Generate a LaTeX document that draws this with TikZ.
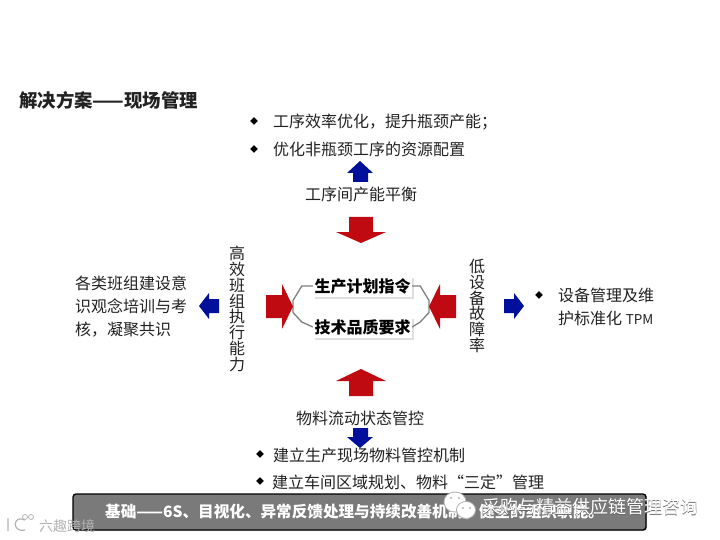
\documentclass[tikz,border=0pt]{standalone}
\usepackage{fontspec}
\setmainfont{Noto Sans CJK SC}
\usetikzlibrary{calc,shadows}
\definecolor{blockred}{HTML}{C00A12}
\definecolor{blockblue}{HTML}{00109A}
\definecolor{barfill}{HTML}{7A7A7A}
\definecolor{linkgray}{HTML}{808080}
\definecolor{inktext}{HTML}{222222}
\definecolor{markgray}{HTML}{B4B4B4}
\tikzset{
 txt/.style={text=inktext,font=\fontsize{16}{23}\selectfont,inner sep=0pt},
 bullet/.style={text=black,font=\fontsize{8}{8}\selectfont,inner sep=0pt},
 planbox/.style={fill=white,drop shadow={shadow xshift=2pt,shadow yshift=-2pt,opacity=.25},inner sep=0pt,minimum width=99pt,minimum height=21pt,font=\fontsize{16}{16}\selectfont\bfseries,text=black},
 vtxt/.style={txt,align=center,font=\fontsize{16}{15.8}\selectfont},
 link/.style={draw=linkgray,line width=1.3pt},
 marktxt/.style={inner sep=0pt,anchor=west,font=\fontsize{18}{18}\selectfont},
}
\begin{document}
\begin{tikzpicture}[x=1pt,y=-1pt]
 \useasboundingbox (0,0) rectangle (720,540);
 \fill[white] (0,0) rectangle (720,540);
 \node[txt,anchor=west,font=\fontsize{18.4}{18.4}\selectfont\bfseries] (title) at (19,100) {解决方案——现场管理};
 % top
 \node[bullet] (btopa) at (254,121) {◆};
 \node[txt,anchor=west] (topa) at (273,122) {工序效率优化，提升瓶颈产能；};
 \node[bullet] (btopb) at (254,149) {◆};
 \node[txt,anchor=west] (topb) at (273,149) {优化非瓶颈工序的资源配置};
 \node[txt] (balance) at (361,194) {工序间产能平衡};
 \fill[blockblue] (360,161)--(373,173)--(368,173)--(368,182)--(353,182)--(353,173)--(347,173)--cycle;
 \fill[blockred] (349,217)--(373,217)--(373,232)--(386,232)--(361,243)--(336,232)--(349,232)--cycle;
 % middle
 \node[planbox] (plan) at (362.5,286) {生产计划指令};
 \node[planbox] (tech) at (362.5,327) {技术品质要求};
 \coordinate (lefttip) at (293,306.5);
 \coordinate (righttip) at (429,306.5);
 \draw[link] (plan.west) -- ++(-11,0) -- ($(lefttip)+(0,-6)$) -- ($(lefttip)+(0,6)$) -- ($(tech.west)+(-11,-5)$) -- (tech.west);
 \draw[link] (plan.east) -- ++(8,0) -- ($(righttip)+(0,-6)$) -- ($(righttip)+(0,6)$) -- ($(tech.east)+(8,-5)$) -- (tech.east);
 \fill[blockred] (266,295)--(282,295)--(282,284)--(293,306.5)--(282,329)--(282,318)--(266,318)--cycle;
 \fill[blockred] (456,295)--(440,295)--(440,284)--(429,306.5)--(440,329)--(440,318)--(456,318)--cycle;
 \node[vtxt] (left) at (237,309) {高\\效\\班\\组\\执\\行\\能\\力};
 \node[vtxt] (right) at (477,306) {低\\设\\备\\故\\障\\率};
 \fill[blockblue] (199,306)--(209,293)--(209,299)--(219,299)--(219,313)--(209,313)--(209,319)--cycle;
 \fill[blockblue] (524,306)--(514,293)--(514,299)--(504,299)--(504,313)--(514,313)--(514,319)--cycle;
 \node[txt,anchor=west,align=left] (team) at (75,307) {各类班组建设意\\识观念培训与考\\核，凝聚共识};
 \node[bullet] (bequip) at (539,295) {◆};
 \node[txt,anchor=west,align=left] (equip) at (558,307) {设备管理及维\\护标准化 {\fontsize{13.5}{23}\selectfont TPM}};
 % bottom
 \fill[blockred] (361,369)--(386,381)--(373,381)--(373,396)--(349,396)--(349,381)--(336,381)--cycle;
 \node[txt] (flow) at (360,418) {物料流动状态管控};
 \fill[blockblue] (360,448)--(373,437)--(368,437)--(368,428)--(353,428)--(353,437)--(347,437)--cycle;
 \node[bullet] (bbota) at (260,454) {◆};
 \node[txt,anchor=west] (bota) at (273,455) {建立生产现场物料管控机制};
 \node[bullet] (bbotb) at (260,481) {◆};
 \node[txt,anchor=west] (botb) at (272,482) {建立车间区域规划、物料“三定”管理};
 \node[draw=black,line width=1.3pt,fill=barfill,rounded corners=3pt,minimum width=573pt,minimum height=36pt,drop shadow={shadow xshift=1pt,shadow yshift=-1pt,opacity=.4}] (base) at (359.5,512) {};
 \node[text=white,font=\fontsize{15.6}{15.6}\selectfont\bfseries,inner sep=0pt,anchor=west] (basetxt) at (105,512) {基础——6S、目视化、异常反馈处理与持续改善机制，健全的组织职能。};
 % marks
 \fill[markgray] (455,502) ellipse (11.5 and 10.5);
 \fill[white] (455,502) ellipse (10.5 and 9.5);
 \fill[markgray] (466,510) ellipse (10 and 9);
 \fill[white] (466,510) ellipse (9 and 8);
 \fill[markgray] (451,498) circle (1.2) (459,498) circle (1.2) (463,508) circle (1.2) (470,508) circle (1.2);
 \node[marktxt,text=black!60] (markb) at (482.7,507.7) {采购与精益供应链管理咨询};
 \node[marktxt,text=white] (marka) at (482,507) {采购与精益供应链管理咨询};
 \draw[markgray,line width=1.2pt] (8,518)--(8,531) (25,520) .. controls (13,514) and (11,533) .. (25,530);
 \draw[markgray,line width=.8pt] (25,517) circle (2.5) (31,517) circle (2.5);
 \node[marktxt,text=markgray,font=\fontsize{14}{14}\selectfont] (corner) at (39,526) {六趣跨境};
\end{tikzpicture}
\end{document}
